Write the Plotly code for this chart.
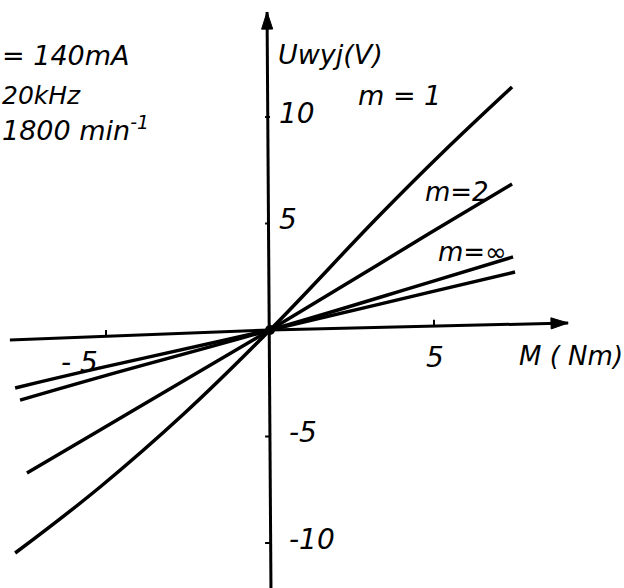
import math
import numpy as np
import plotly.graph_objects as go

# Output voltage vs. load torque for several modulation ratios m
m1_x = [-7.77, -5.18, -2.60, 0, 3.35, 5.24, 7.38]
m1_y = [-10.47, -7.37, -3.90, 0, 5.40, 8.30, 11.41]

m2_x = [-7.41, -5.18, 0, 4.88, 7.38]
m2_y = [-6.71, -4.69, 0, 4.55, 6.85]

minf_a_x = [-7.62, -5.18, 0, 4.88, 7.41]
minf_a_y = [-3.29, -2.21, 0, 2.25, 3.43]

minf_b_x = [-7.77, -5.18, 0, 4.88, 7.47]
minf_b_y = [-2.72, -1.78, 0, 1.78, 2.72]

x_ticks = [-5, 5]
y_ticks = [-10, -5, 5, 10]

# hand-drawn axis lines (ends)
x_axis_x = [-7.93, 0, 9.09]
x_axis_y = [-0.47, 0, 0.33]
y_axis_x = [0.03, -0.09]
y_axis_y = [-12.2, 14.93]

PX_X, PX_Y = 32.8, 21.3  # pixels per unit on each axis
FONT = "DejaVu Sans, sans-serif"
INK = "#000000"

fig = go.Figure()

for xs, ys in [(m1_x, m1_y), (m2_x, m2_y), (minf_a_x, minf_a_y), (minf_b_x, minf_b_y)]:
    fig.add_trace(go.Scatter(x=xs, y=ys, mode="lines",
                             line=dict(color=INK, width=3.5, shape="spline", smoothing=1.2),
                             hoverinfo="skip", showlegend=False))

fig.add_trace(go.Scatter(x=[0], y=[0], mode="markers",
                         marker=dict(color=INK, size=10), hoverinfo="skip", showlegend=False))

# axes, each ending in an arrowhead
for ax_x, ax_y in [(x_axis_x, x_axis_y), (y_axis_x, y_axis_y)]:
    fig.add_trace(go.Scatter(x=ax_x, y=ax_y, mode="lines",
                             line=dict(color=INK, width=3),
                             hoverinfo="skip", showlegend=False))
    dx = (ax_x[-1] - ax_x[-2]) * PX_X
    dy = (ax_y[-1] - ax_y[-2]) * PX_Y
    angle = math.degrees(math.atan2(dx, dy))
    fig.add_trace(go.Scatter(x=[ax_x[-1]], y=[ax_y[-1]], mode="markers",
                             marker=dict(symbol="arrow", angle=angle, color=INK, size=18,
                                         line=dict(color=INK, width=1)),
                             hoverinfo="skip", showlegend=False))

# tick marks and labels
for t in x_ticks:
    ty = float(np.interp(t, x_axis_x, x_axis_y))
    fig.add_shape(type="line", x0=t, x1=t, y0=ty, y1=ty + 0.3,
                  line=dict(color=INK, width=2))
    fig.add_annotation(x=t, y=ty, text=f"{t}".replace("-", "- "), showarrow=False,
                       xanchor="center", yanchor="middle",
                       xshift=-27 if t < 0 else 1, yshift=-26 if t < 0 else -31,
                       font=dict(family=FONT, size=28, color=INK, style="italic"))
for t in y_ticks:
    fig.add_shape(type="line", x0=-0.15, x1=0, y0=t, y1=t,
                  line=dict(color=INK, width=2))
    fig.add_annotation(x=0, y=t, text=f"{t}", showarrow=False,
                       xanchor="left", yanchor="middle",
                       xshift=17 if t < 0 else 7, yshift=4,
                       font=dict(family=FONT, size=28, color=INK, style="italic"))

def label(x, y, text, size, anchor="center"):
    fig.add_annotation(x=x, y=y, text=text, showarrow=False, xanchor=anchor,
                       yanchor="middle",
                       font=dict(family=FONT, size=size, color=INK, style="italic"))

label(1.83, 12.95, "Uwyj(V)", 27)
label(3.96, 10.99, "m = 1", 27)
label(5.70, 6.48, "m=2", 26)
label(6.16, 3.66, "m=∞", 26)
label(9.18, -1.22, "M ( Nm)", 26)

label(-8.23, 12.91, "= 140mA", 27, "left")
label(-8.23, 11.03, "20kHz", 25, "left")
label(-8.23, 9.48, "1800 min<sup>-1</sup>", 27, "left")

fig.update_layout(
    width=624, height=588,
    margin=dict(l=0, r=0, t=0, b=0),
    paper_bgcolor="white", plot_bgcolor="white",
    xaxis=dict(range=[-270 / PX_X, 354 / PX_X], visible=False, fixedrange=True),
    yaxis=dict(range=[-258 / PX_Y, 330 / PX_Y], visible=False, fixedrange=True),
    showlegend=False,
)

fig.write_html("out.html")
